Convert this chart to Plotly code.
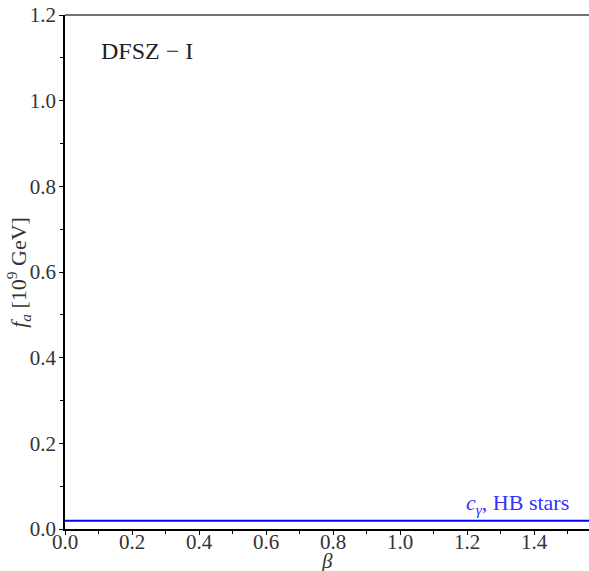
import numpy as np
import plotly.graph_objects as go

beta = [0.0, 1.5708]
fa_hb = [0.019, 0.019]
xticks = [0.0, 0.2, 0.4, 0.6, 0.8, 1.0, 1.2, 1.4]
yticks = [0.0, 0.2, 0.4, 0.6, 0.8, 1.0, 1.2]

FONT = "Liberation Serif"

fig = go.Figure()
fig.add_trace(go.Scatter(x=beta, y=fa_hb, mode="lines",
                         line=dict(color="#0000ff", width=2), showlegend=False))

fig.add_annotation(x=0.1, y=1.115, xref="x", yref="y", text="DFSZ − I",
                   showarrow=False, xanchor="left", yanchor="middle",
                   font=dict(family=FONT, size=24, color="#222"))
fig.add_annotation(x=1.19, y=0.022, xref="x", yref="y",
                   text="<i>c</i><sub><i>γ</i></sub>, HB stars",
                   showarrow=False, xanchor="left", yanchor="bottom",
                   font=dict(family=FONT, size=22, color="#3333ff"))
fig.add_annotation(x=0.5, y=-0.062, xref="paper", yref="paper", text="<i>β</i>",
                   showarrow=False, xanchor="center", yanchor="middle",
                   font=dict(family=FONT, size=21, color="#333"))
fig.add_annotation(x=-0.09, y=0.5, xref="paper", yref="paper",
                   text="<i>f</i><sub><i>a</i></sub> [10<sup>9</sup> GeV]",
                   textangle=-90, showarrow=False, xanchor="center", yanchor="middle",
                   font=dict(family=FONT, size=22, color="#333"))
fig.add_shape(type="line", xref="paper", yref="paper", x0=0, x1=1, y0=1, y1=1,
              line=dict(color="#444", width=1.5))

fig.update_layout(
    width=589, height=571,
    margin=dict(l=65, r=0, t=15, b=42),
    plot_bgcolor="white", paper_bgcolor="white",
    font=dict(family=FONT, size=21, color="#333"),
    xaxis=dict(range=[0, 1.564], tickvals=xticks, ticktext=[f"{v:.1f}" for v in xticks],
               showgrid=False, zeroline=False, showline=True, linecolor="black",
               linewidth=1.5, ticks="outside", ticklen=4, tickcolor="black",
               minor=dict(dtick=0.1, ticks="outside", ticklen=3, tickcolor="black"),
               ticklabelstandoff=-11,
               automargin=False, tickfont=dict(size=21)),
    yaxis=dict(range=[0, 1.2], tickvals=yticks, ticktext=[f"{v:.1f}" for v in yticks],
               showgrid=False, zeroline=False, showline=True, linecolor="black",
               linewidth=1.5, ticks="outside", ticklen=4, tickcolor="black",
               minor=dict(dtick=0.1, ticks="outside", ticklen=3, tickcolor="black"),
               ticklabelstandoff=-1,
               automargin=False, tickfont=dict(size=21)),
)

fig.write_html("out.html")
